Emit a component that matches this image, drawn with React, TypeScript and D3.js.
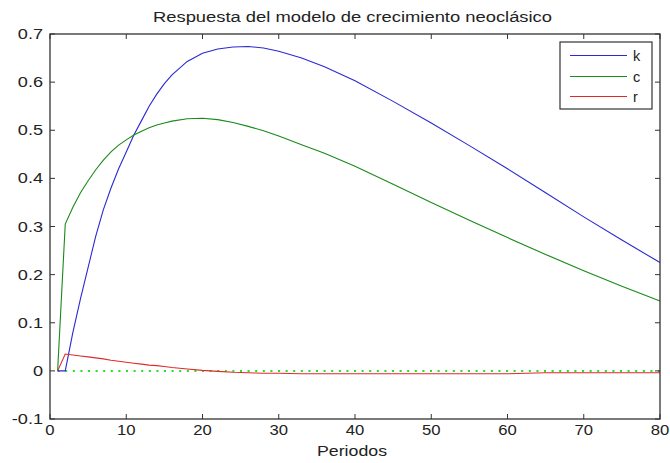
import React from 'react';
import * as d3 from 'd3';

// values
const periods = [1, 2, 3, 4, 5, 6, 7, 8, 9, 10, 11, 12, 13, 14, 15, 16, 18, 20, 22, 24, 26, 28, 30, 33, 36, 40, 45, 50, 55, 60, 65, 70, 75, 80];
const kValues = [0, 0, 0.08, 0.15, 0.215, 0.28, 0.335, 0.38, 0.42, 0.455, 0.49, 0.52, 0.55, 0.575, 0.597, 0.615, 0.643, 0.66, 0.669, 0.673, 0.674, 0.671, 0.664, 0.65, 0.632, 0.603, 0.56, 0.515, 0.468, 0.42, 0.37, 0.32, 0.272, 0.225];
const cValues = [0, 0.305, 0.34, 0.37, 0.395, 0.418, 0.438, 0.455, 0.469, 0.48, 0.49, 0.498, 0.505, 0.511, 0.515, 0.519, 0.524, 0.525, 0.522, 0.516, 0.508, 0.499, 0.488, 0.47, 0.452, 0.425, 0.388, 0.35, 0.313, 0.277, 0.242, 0.208, 0.176, 0.145];
const rValues = [0, 0.035, 0.033, 0.031, 0.029, 0.027, 0.025, 0.022, 0.02, 0.018, 0.016, 0.014, 0.012, 0.011, 0.009, 0.007, 0.004, 0.001, -0.001, -0.003, -0.004, -0.005, -0.005, -0.006, -0.006, -0.006, -0.006, -0.006, -0.006, -0.006, -0.004, -0.004, -0.004, -0.004];
const zeroLine = [1, 80];

const xTicks = [0, 10, 20, 30, 40, 50, 60, 70, 80];
const yTicks = [-0.1, 0, 0.1, 0.2, 0.3, 0.4, 0.5, 0.6, 0.7];

const series = [
  { name: 'k', values: kValues, color: '#2a2ad0' },
  { name: 'c', values: cValues, color: '#1a8a1a' },
  { name: 'r', values: rValues, color: '#e02a2a' },
];

const W = 670;
const H = 463;
const m = { left: 50, right: 10, top: 34, bottom: 44 };
const font = '"Liberation Sans", Arial, sans-serif';

export default function App() {
  const x = d3.scaleLinear().domain([0, 80]).range([m.left, W - m.right]);
  const y = d3.scaleLinear().domain([-0.1, 0.7]).range([H - m.bottom, m.top]);
  const line = d3.line<number>()
    .x((_, i) => x(periods[i]))
    .y((d) => y(d));

  const x0 = x(0), x1 = x(80), y0 = y(-0.1), y1 = y(0.7);
  const tl = 5;
  const sx = 1.15; // the reference text is a bit stretched sideways
  const legendRows = [55.5, 76.5, 96.5];

  return (
    <svg width={W} height={H} style={{ position: 'absolute', left: 0, top: 0, background: '#fff' }}>
      <rect x={0} y={0} width={W} height={H} fill="#fff" />
      <text x={153} y={22} textLength={399} lengthAdjust="spacingAndGlyphs" fontFamily={font} fontSize={14} fill="#222">
        Respuesta del modelo de crecimiento neoclásico
      </text>

      <line x1={x(zeroLine[0])} x2={x(zeroLine[1])} y1={y(0)} y2={y(0)}
        stroke="#22e022" strokeWidth={2} strokeDasharray="2 5.6" />

      {series.map((s) => (
        <path key={s.name} d={line(s.values) || ''} fill="none" stroke={s.color} strokeWidth={1.1} />
      ))}

      <rect x={x0} y={y1} width={x1 - x0} height={y0 - y1} fill="none" stroke="#333" strokeWidth={1.3} />

      {xTicks.map((t) => (
        <g key={'x' + t}>
          <line x1={x(t)} x2={x(t)} y1={y0} y2={y0 - tl} stroke="#333" />
          <line x1={x(t)} x2={x(t)} y1={y1} y2={y1 + tl} stroke="#333" />
          <text transform={`translate(${x(t)},${y0 + 16}) scale(${sx},1)`} textAnchor="middle"
            fontFamily={font} fontSize={14.5} fill="#222">{t}</text>
        </g>
      ))}
      {yTicks.map((t) => (
        <g key={'y' + t}>
          <line x1={x0} x2={x0 + tl} y1={y(t)} y2={y(t)} stroke="#333" />
          <line x1={x1} x2={x1 - tl} y1={y(t)} y2={y(t)} stroke="#333" />
          <text transform={`translate(${x0 - 7},${y(t) + 5}) scale(${sx + 0.1},1)`} textAnchor="end"
            fontFamily={font} fontSize={14.5} fill="#222">{t}</text>
        </g>
      ))}

      <text x={317} y={456} textLength={70} lengthAdjust="spacingAndGlyphs" fontFamily={font} fontSize={15} fill="#222">Periodos</text>

      <g>
        <rect x={560} y={42} width={92} height={67} fill="#fff" stroke="#333" strokeWidth={1.2} />
        {series.map((s, i) => (
          <g key={'lg' + s.name}>
            <line x1={570} x2={627} y1={legendRows[i]} y2={legendRows[i]} stroke={s.color} strokeWidth={1.2} />
            <text x={633} y={legendRows[i] + 5} fontFamily={font} fontSize={14.5} fill="#222">{s.name}</text>
          </g>
        ))}
      </g>
    </svg>
  );
}
